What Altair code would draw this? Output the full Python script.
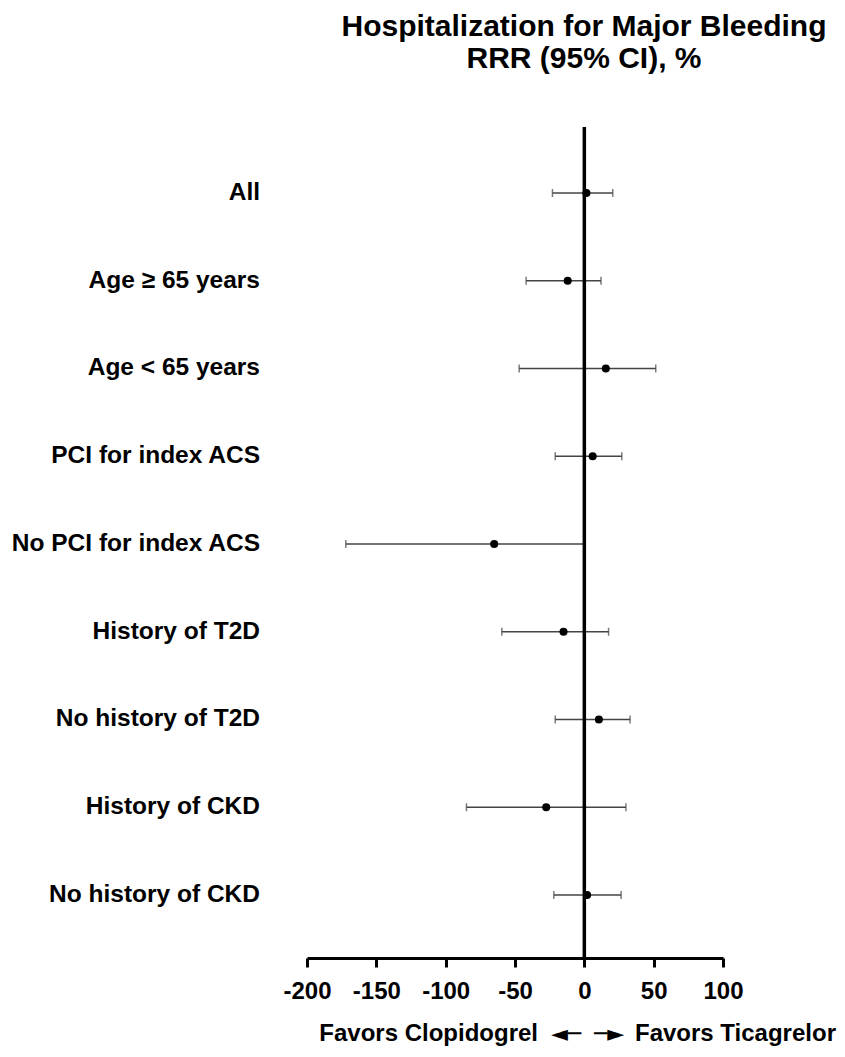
import altair as alt
import pandas as pd

# ---- data ----
categories = [
    "All",
    "Age \u2265 65 years",
    "Age < 65 years",
    "PCI for index ACS",
    "No PCI for index ACS",
    "History of T2D",
    "No history of T2D",
    "History of CKD",
    "No history of CKD",
]
rrr = [1.5, -12, 15.5, 6, -65, -15, 10.5, -27.5, 2]
ci_low = [-23, -42, -47, -21, -172, -59.5, -21, -85, -22]
ci_high = [20.5, 12, 51.5, 27, 0, 17.5, 33, 30, 26.5]
x_ticks = [-200, -150, -100, -50, 0, 50, 100]
title_lines = ["Hospitalization for Major Bleeding", "RRR (95% CI), %"]
favors_left = "Favors Clopidogrel"
favors_right = "Favors Ticagrelor"

df = pd.DataFrame({
    "cat": categories,
    "row": list(range(len(categories))),
    "rrr": rrr,
    "lo": ci_low,
    "hi": ci_high,
})

FONT = "Liberation Sans"

xscale = alt.Scale(domain=[-200, 100], nice=False, zero=False)
yscale = alt.Scale(domain=[-0.752, 8.718], reverse=True, nice=False, zero=False)

base = alt.Chart(df)

x_axis = alt.Axis(
    values=x_ticks, title=None, grid=False,
    domainColor="black", domainWidth=3,
    tickColor="black", tickWidth=3, tickSize=9,
    labelFont=FONT, labelFontSize=24, labelFontWeight="bold",
    labelColor="black", labelPadding=12, labelFlush=False,
    labelExpr="'' + datum.value",
)

ci = base.mark_rule(color="#444444", strokeWidth=1.5).encode(
    x=alt.X("lo:Q", scale=xscale, axis=x_axis),
    x2="hi:Q",
    y=alt.Y("row:Q", scale=yscale, axis=None),
)
cap_lo = base.mark_tick(color="#444444", thickness=1.5, size=8, orient="vertical").encode(
    x=alt.X("lo:Q", scale=xscale),
    y=alt.Y("row:Q", scale=yscale, axis=None),
)
cap_hi = base.mark_tick(color="#444444", thickness=1.5, size=8, orient="vertical").encode(
    x=alt.X("hi:Q", scale=xscale),
    y=alt.Y("row:Q", scale=yscale, axis=None),
)
zero = alt.Chart(pd.DataFrame({"z": [0]})).mark_rule(color="black", strokeWidth=3.5).encode(
    x=alt.X("z:Q", scale=xscale),
)
points = base.mark_point(filled=True, color="black", opacity=1, size=65, shape="circle").encode(
    x=alt.X("rrr:Q", scale=xscale),
    y=alt.Y("row:Q", scale=yscale, axis=None),
)
labels = base.mark_text(
    align="right", baseline="middle", font=FONT, fontSize=24.5,
    fontWeight="bold", color="black",
).encode(
    x=alt.value(-47),
    y=alt.Y("row:Q", scale=yscale, axis=None),
    text="cat:N",
)

def fixed_text(txt, x, y, align="center", size=24, font=FONT, baseline="middle"):
    return alt.Chart(pd.DataFrame({"t": [txt]})).mark_text(
        align=align, baseline=baseline, font=font, fontSize=size,
        fontWeight="bold", color="black",
    ).encode(x=alt.value(x), y=alt.value(y), text="t:N")

title1 = fixed_text(title_lines[0], 277, -91, size=30, baseline="alphabetic")
title2 = fixed_text(title_lines[1], 277, -59, size=30, baseline="alphabetic")
fav_l = fixed_text(favors_left, 231, 907, align="right")
fav_r = fixed_text(favors_right, 328, 907, align="left")
arr_l = fixed_text("\u25c4\u2500", 259, 907, size=22, font="DejaVu Sans")
arr_r = fixed_text("\u2500\u25ba", 302, 907, size=22, font="DejaVu Sans")

chart = alt.layer(
    ci, cap_lo, cap_hi, zero, points, labels,
    title1, title2, fav_l, arr_l, arr_r, fav_r,
).properties(
    width=416, height=831,
    background="white",
    autosize=alt.AutoSizeParams(type="none"),
    padding={"left": 299, "top": 119, "right": 114, "bottom": 91},
).configure_view(strokeWidth=0, stroke="transparent")

chart.save("out.html", embed_options={"renderer": "svg", "actions": False})
